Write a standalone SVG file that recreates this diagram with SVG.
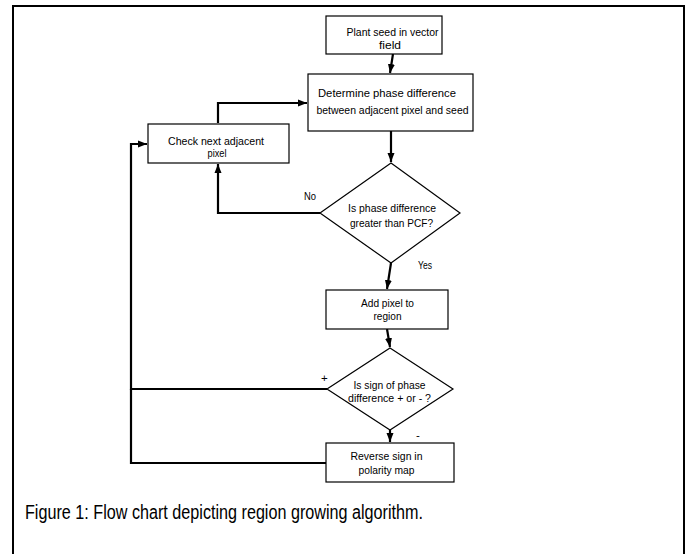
<svg xmlns="http://www.w3.org/2000/svg" width="688" height="554" viewBox="0 0 688 554">
<defs>
<style>
.box{fill:#fff;stroke:#000;stroke-width:1.2}
.t{font-family:"Liberation Sans",Arial,sans-serif;font-size:11.5px;fill:#000;text-anchor:middle}
.l{font-family:"Liberation Sans",Arial,sans-serif;font-size:11.5px;fill:#000}
.c{fill:none;stroke:#000;stroke-width:2.2}
.cap{font-family:"Liberation Sans",Arial,sans-serif;font-size:19.5px;fill:#000}
</style>
<marker id="ah" markerUnits="userSpaceOnUse" markerWidth="10" markerHeight="10" viewBox="0 0 10 10" refX="9" refY="5" orient="auto">
<path d="M0,1.5 L9,5 L0,8.5 Z" fill="#000"/>
</marker>
</defs>
<rect width="688" height="554" fill="#fff"/>
<rect x="13" y="6" width="671" height="570" fill="none" stroke="#000" stroke-width="2"/>

<g id="connectors">
<path class="c" d="M393,54 L390,73" marker-end="url(#ah)"/>
<path class="c" d="M218,123 L218,103 L307,103" marker-end="url(#ah)"/>
<path class="c" d="M391,131 L391,162" marker-end="url(#ah)"/>
<path class="c" d="M320,213 L218,213 L218,164" marker-end="url(#ah)"/>
<path class="c" d="M391,263 L387,289" marker-end="url(#ah)"/>
<path class="c" d="M387,329 L390,347" marker-end="url(#ah)"/>
<path class="c" d="M327,389 L131,389 L131,144 L147,144" marker-end="url(#ah)"/>
<path class="c" d="M390,430 L390,442" marker-end="url(#ah)"/>
<path class="c" d="M326,463 L131,463 L131,389"/>
<text class="l" x="304" y="200" textLength="12" lengthAdjust="spacingAndGlyphs">No</text>
<text class="l" x="418" y="269" textLength="14" lengthAdjust="spacingAndGlyphs">Yes</text>
<text class="l" x="321" y="382">+</text>
<text class="l" x="416" y="439">-</text>
</g>

<g id="plant">
<rect class="box" x="326" y="16" width="116" height="38"/>
<text class="t" x="392.5" y="36" textLength="92" lengthAdjust="spacingAndGlyphs">Plant seed in vector</text>
<text class="t" x="390" y="49" textLength="22" lengthAdjust="spacingAndGlyphs">field</text>
</g>

<g id="determine">
<rect class="box" x="308" y="74" width="165" height="57"/>
<text class="t" x="387" y="97" textLength="138" lengthAdjust="spacingAndGlyphs">Determine phase difference</text>
<text class="t" x="392.5" y="114" textLength="152" lengthAdjust="spacingAndGlyphs">between adjacent pixel and seed</text>
</g>

<g id="check">
<rect class="box" x="148" y="124" width="141" height="39"/>
<text class="t" x="216" y="145" textLength="96" lengthAdjust="spacingAndGlyphs">Check next adjacent</text>
<text class="t" x="217" y="157" textLength="19" lengthAdjust="spacingAndGlyphs">pixel</text>
</g>

<g id="decision1">
<polygon class="box" points="391,163 460,213 391,263 320,213"/>
<text class="t" x="392" y="211.5" textLength="88" lengthAdjust="spacingAndGlyphs">Is phase difference</text>
<text class="t" x="391.5" y="227" textLength="83" lengthAdjust="spacingAndGlyphs">greater than PCF?</text>
</g>

<g id="addpixel">
<rect class="box" x="326" y="290" width="122" height="39"/>
<text class="t" x="387.5" y="306.5" textLength="53" lengthAdjust="spacingAndGlyphs">Add pixel to</text>
<text class="t" x="387.5" y="320" textLength="28" lengthAdjust="spacingAndGlyphs">region</text>
</g>

<g id="decision2">
<polygon class="box" points="390,348 453,389 390,430 327,389"/>
<text class="t" x="389.5" y="388.5" textLength="72" lengthAdjust="spacingAndGlyphs">Is sign of phase</text>
<text class="t" x="389.5" y="402" textLength="83" lengthAdjust="spacingAndGlyphs">difference + or - ?</text>
</g>

<g id="reverse">
<rect class="box" x="326" y="443" width="128" height="39"/>
<text class="t" x="386.5" y="460" textLength="72" lengthAdjust="spacingAndGlyphs">Reverse sign in</text>
<text class="t" x="386.5" y="474" textLength="56" lengthAdjust="spacingAndGlyphs">polarity map</text>
</g>

<text class="cap" x="25" y="519" textLength="398" lengthAdjust="spacingAndGlyphs">Figure 1: Flow chart depicting region growing algorithm.</text>
</svg>
